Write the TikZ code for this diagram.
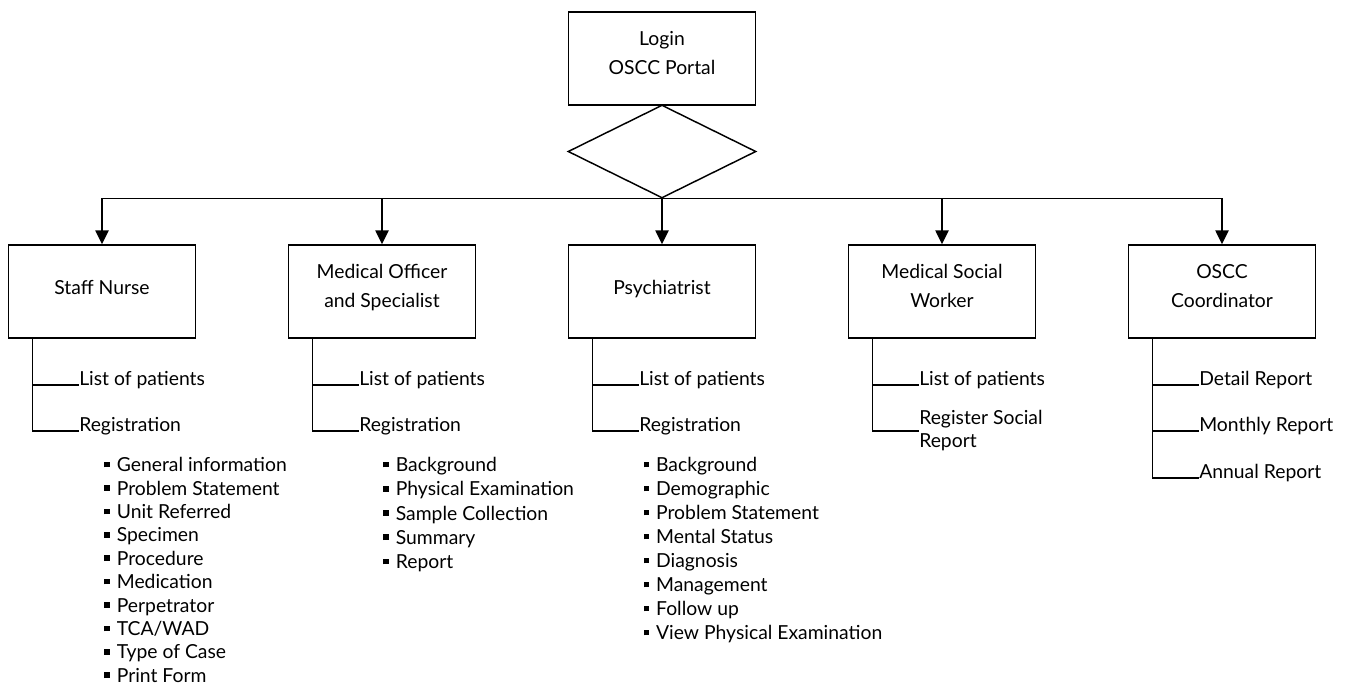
\documentclass[tikz,border=0pt]{standalone}
\usepackage{fontspec}
\setmainfont{Lato}
\usetikzlibrary{arrows.meta,shapes.geometric}
\newcommand\sqb{\raisebox{0.22em}{\rule{0.29em}{0.29em}}\hspace{0.36em}}
\begin{document}
\begin{tikzpicture}[x=0.75pt,y=-0.75pt,
  conn/.style={line width=1.1pt},
  arr/.style={conn,-{Triangle[length=10.5pt,width=10pt]}},
  box/.style={draw,line width=1.1pt,minimum width=140.25pt,minimum height=69.75pt,inner sep=0pt},
  dia/.style={draw,line width=1.1pt,diamond,aspect=2,minimum width=141pt,minimum height=69.75pt,inner sep=0pt},
  txt/.style={inner sep=0pt,font=\fontsize{14.5}{21.75}\selectfont},
  btxt/.style={txt,align=center,anchor=base},
  lbl/.style={txt,anchor=base west},
  item/.style={txt,anchor=base west}]
\useasboundingbox (0,0) rectangle (1346,689);

% top
\node[box] (login) at (662,58.5) {};
\node[btxt] (loginT) at (662,74) {Login\\OSCC Portal};
\node[dia] (dec) at (662,151.5) {};

% role boxes
\node[box] (sn)  at (102,291.5) {};
\node[box] (mo)  at (382,291.5) {};
\node[box] (ps)  at (662,291.5) {};
\node[box] (msw) at (942,291.5) {};
\node[box] (co)  at (1222,291.5) {};
\node[btxt] (snT)  at (102,294) {Staff Nurse};
\node[btxt] (moT)  at (382,307) {Medical Officer\\and Specialist};
\node[btxt] (psT)  at (662,294) {Psychiatrist};
\node[btxt] (mswT) at (942,307) {Medical Social\\Worker};
\node[btxt] (coT)  at (1222,307) {OSCC\\Coordinator};

\foreach \b in {sn,mo,ps,msw,co}
  \draw[arr] (dec.south) -| (\b.north);

% trunks
\foreach \b in {sn,mo,ps,msw,co}
  \coordinate (\b R) at ([xshift=18.375pt]\b.south west);

% branch labels
\node[lbl] (snL1) at (79,385) {List of patients};
\node[lbl] (snL2) at (79,431) {Registration};
\node[lbl] (moL1) at (359,385) {List of patients};
\node[lbl] (moL2) at (359,431) {Registration};
\node[lbl] (psL1) at (639,385) {List of patients};
\node[lbl] (psL2) at (639,431) {Registration};
\node[lbl] (mswL1) at (919,385) {List of patients};
\node[txt,font=\fontsize{14.5}{17.25}\selectfont,align=left,anchor=west] (mswL2) at (919,431) {Register Social\\Report};
\node[lbl] (coL1) at (1199,385) {Detail Report};
\node[lbl] (coL2) at (1199,431) {Monthly Report};
\node[lbl] (coL3) at (1199,478) {Annual Report};

\foreach \b in {sn,mo,ps}{
  \draw[conn] (\b R) |- (\b L2.base west);
  \draw[conn] (\b R |- \b L1.base west) -- (\b L1.base west);
}
\draw[conn] (mswR) |- (mswL2.west);
\draw[conn] (mswR |- mswL1.base west) -- (mswL1.base west);
\draw[conn] (coR) |- (coL3.base west);
\draw[conn] (coR |- coL1.base west) -- (coL1.base west);
\draw[conn] (coR |- coL2.base west) -- (coL2.base west);

% bullet lists
\foreach \t [count=\i from 0] in {General information,Problem Statement,Unit Referred,Specimen,Procedure,Medication,Perpetrator,TCA{/}WAD,Type of Case,Print Form}
  \node[item] (snB\i) at (104,471.7+23.4*\i) {\sqb\t};
\foreach \t [count=\i from 0] in {Background,Physical Examination,Sample Collection,Summary,Report}
  \node[item] (moB\i) at (383,471.7+24.2*\i) {\sqb\t};
\foreach \t [count=\i from 0] in {Background,Demographic,Problem Statement,Mental Status,Diagnosis,Management,Follow up,View Physical Examination}
  \node[item] (psB\i) at (643.3,471.7+24*\i) {\sqb\t};
\end{tikzpicture}
\end{document}
